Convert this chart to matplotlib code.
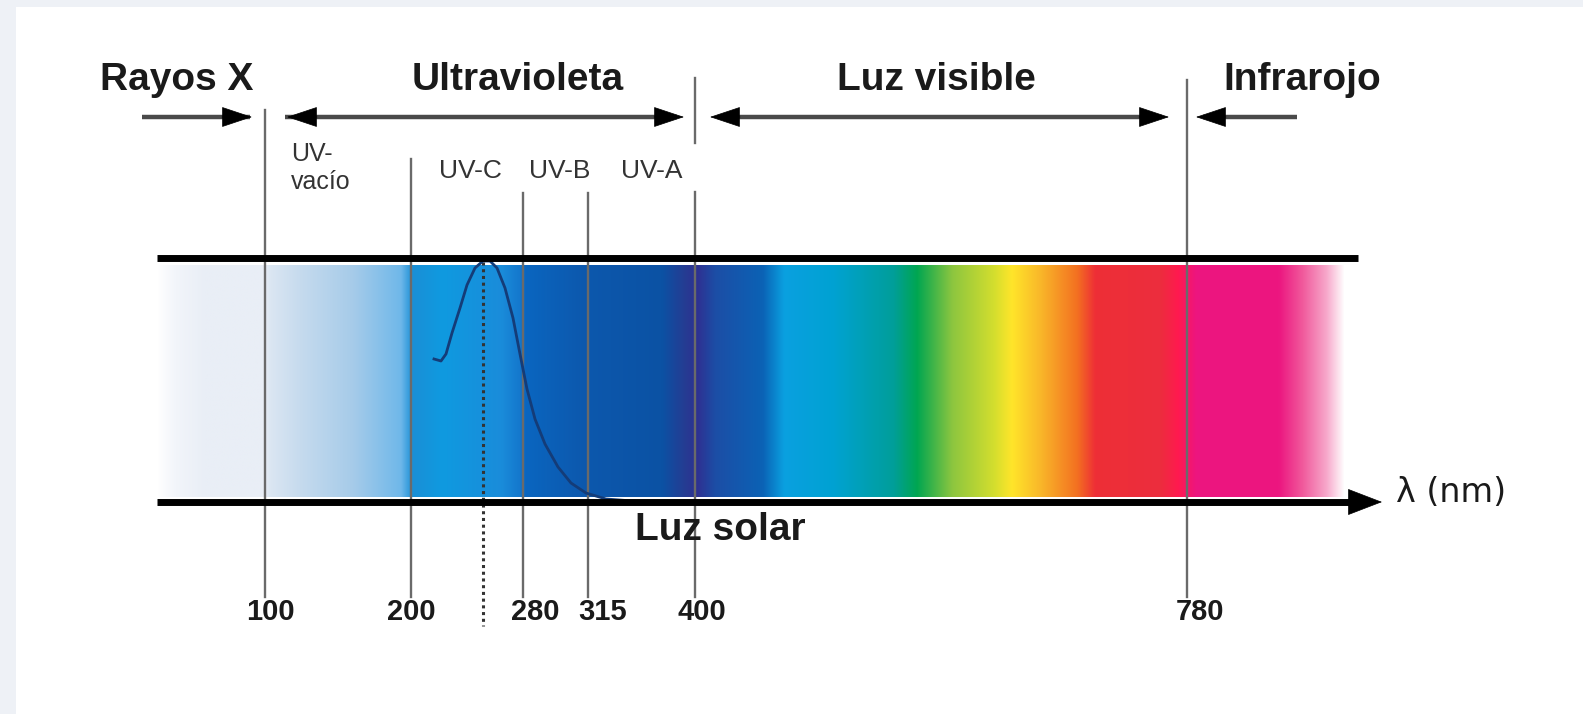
import numpy as np
import matplotlib
matplotlib.use('Agg')
import matplotlib.pyplot as plt
from matplotlib.colors import LinearSegmentedColormap
from matplotlib.patches import FancyArrowPatch, Rectangle

plt.rcParams['font.family'] = ['Liberation Sans', 'DejaVu Sans']

# text of the diagram
band_names = ['Rayos X', 'Ultravioleta', 'Luz visible', 'Infrarojo']
uv_names = ['UV-\nvacío', 'UV-C', 'UV-B', 'UV-A']
boundary_labels = ['100', '200', '280', '315', '400', '780']

# colours of the spectrum band, left to right
spectrum_colors = ['#ffffff', '#f2f5fa', '#e9eef6', '#e9eef6', '#dbe6f2', '#c6dbee',
                   '#a6cbe9', '#6fb8ea', '#1a8fd6', '#0f9ae0', '#1a8cda', '#1478cd',
                   '#0a66c0', '#0d58ad', '#0b52a4', '#263b92', '#2e3192', '#1c4ea6',
                   '#0b62b5', '#0aa0e0', '#00a2d2', '#009e9a', '#00a651', '#8dc63f',
                   '#d4de2e', '#ffe52a', '#f9b529', '#f37021', '#ee2f36', '#ec2d3e',
                   '#ff1a4f', '#ed157f', '#ec1680', '#f15a9c', '#f7a8cb', '#ffffff']
# where each colour sits along the band (0..1)
spectrum_stops = [0.0, 0.015, 0.04, 0.09, 0.095, 0.12, 0.165, 0.205, 0.215, 0.24, 0.29,
                  0.305, 0.31, 0.36, 0.425, 0.445, 0.455, 0.47, 0.51, 0.528, 0.57,
                  0.62, 0.64, 0.67, 0.705, 0.72, 0.745, 0.775, 0.79, 0.845, 0.86,
                  0.875, 0.945, 0.965, 0.985, 1.0]

# solar curve
curve_x = [434, 441, 446, 452, 460, 467, 475, 483, 490, 497, 505, 513, 520,
           527, 535, 545, 558, 571, 586, 606, 646]
curve_y = [359, 361, 354, 333, 308, 285, 268, 261, 261, 268, 288, 318, 354,
           389, 419, 444, 467, 483, 493, 499, 502]

W, H = 1583, 714
fig = plt.figure(figsize=(W / 100, H / 100), dpi=100)
fig.patch.set_facecolor('#eef1f6')
ax = fig.add_axes([0, 0, 1, 1])
ax.set_xlim(0, W)
ax.set_ylim(H, 0)
ax.axis('off')

ax.add_patch(Rectangle((16, 7), W - 16, H - 7, facecolor='white', edgecolor='none', zorder=0))

# spectrum band
band_left, band_right, band_top, band_bot = 157, 1345, 265, 497
cmap = LinearSegmentedColormap.from_list('spec', list(zip(spectrum_stops, spectrum_colors)), N=1024)
ax.imshow(np.linspace(0, 1, 1024)[None, :], cmap=cmap, aspect='auto',
          extent=(band_left, band_right, band_bot, band_top), interpolation='bilinear', zorder=1)

# boundary lines
line_x = [265, 411, 523, 588, 695, 1187]
line_top = [110, 159, 193, 193, 192, 80]
line_bot = 597
for x, t in zip(line_x, line_top):
    ax.plot([x, x], [t, line_bot], color='#6a6a6a', lw=1.7, zorder=3)
ax.plot([695, 695], [78, 143], color='#6a6a6a', lw=1.7, zorder=3)

# dotted line under the peak
ax.plot([483, 483], [262, 626], color='#333333', lw=2.2, ls=(0, (1, 1.2)), zorder=3)

# solar curve
ax.plot(curve_x, curve_y, color='#143c78', lw=2.0, zorder=4)

# top and bottom bars
ax.plot([157, 1358], [258, 258], color='black', lw=5, solid_capstyle='butt', zorder=5)
ax.plot([157, 1358], [502, 502], color='black', lw=5, solid_capstyle='butt', zorder=5)
ax.add_patch(FancyArrowPatch((1350, 502), (1382, 502), arrowstyle='-|>,head_length=1.3,head_width=0.5',
                             mutation_scale=18, color='black', lw=0.5, zorder=5,
                             shrinkA=0, shrinkB=0))

# header arrows: grey shaft, black heads
arrow_y = 117
shafts = [(142, 250), (285, 677), (718, 1162), (1203, 1297)]
heads = [(252, 1), (287, -1), (684, 1), (710, -1), (1169, 1), (1196, -1)]
for x0, x1 in shafts:
    ax.plot([x0, x1], [arrow_y, arrow_y], color='#4a4a4a', lw=3.2, solid_capstyle='butt', zorder=5)
for tip, d in heads:
    ax.add_patch(FancyArrowPatch((tip - d * 30, arrow_y), (tip, arrow_y),
                                 arrowstyle='-|>,head_length=1.2,head_width=0.4',
                                 mutation_scale=17, color='black', lw=0.5, zorder=6,
                                 shrinkA=0, shrinkB=0))

# header texts
name_x = [177, 518, 936, 1302]
for name, x in zip(band_names, name_x):
    ax.text(x, 80, name, fontsize=28, fontweight='bold', color='#1a1a1a',
            ha='center', va='center', zorder=6)

# UV sub-band labels
ax.text(291, 168, uv_names[0], fontsize=18, color='#333333',
        ha='left', va='center', linespacing=1.25, zorder=6)
for name, x in zip(uv_names[1:], [470, 560, 652]):
    ax.text(x, 171, name, fontsize=19, color='#333333',
            ha='center', va='center', zorder=6)

# wavelength labels
label_x = [270, 411, 535, 603, 702, 1200]
for lab, x in zip(boundary_labels, label_x):
    ax.text(x, 612, lab, fontsize=21, fontweight='bold', color='#1a1a1a',
            ha='center', va='center', zorder=6)

ax.text(720, 530, 'Luz solar', fontsize=28, fontweight='bold', color='#1a1a1a',
        ha='center', va='center', zorder=6)
ax.text(1396, 492, 'λ (nm)', fontsize=24, family=['DejaVu Sans'], color='#1a1a1a',
        ha='left', va='center', zorder=6)

fig.savefig('out.png', dpi=100, facecolor=fig.get_facecolor())
